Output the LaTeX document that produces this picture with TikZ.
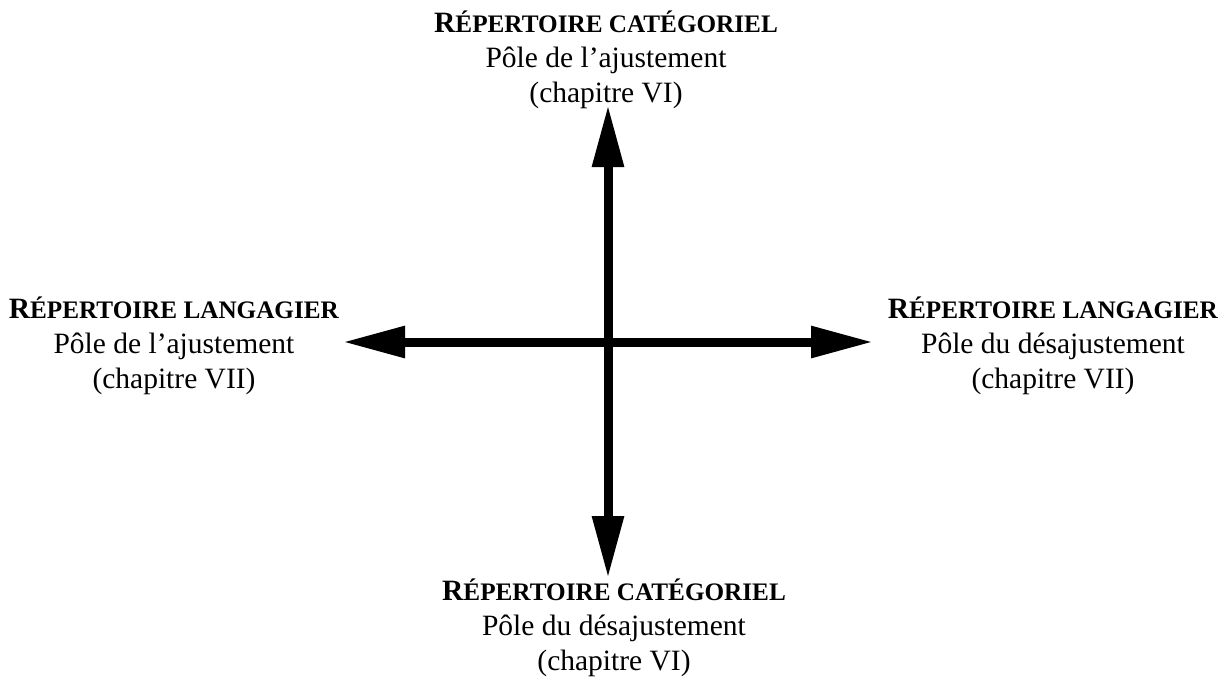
\documentclass[tikz,border=0pt]{standalone}
\usepackage{fontspec}
\setmainfont{Liberation Serif}
\usepackage{tikz}
\usetikzlibrary{arrows.meta}

% bold title with a big first letter, the rest in small capitals
\newcommand{\poletitle}[2]{\textbf{#1{\fontsize{12.6}{17.5}\selectfont #2}}}

\begin{document}
\begin{tikzpicture}[x=0.5pt,y=-0.5pt,
    axis/.style={line width=4.5pt,{Triangle[length=31pt,width=15pt]}-{Triangle[length=31pt,width=15pt]}},
    pole/.style={align=center,inner sep=0pt,font=\fontsize{14.75}{17.5}\selectfont}]
    \useasboundingbox (0,0) rectangle (1221,676);

    % Arrow tips
    \coordinate (up) at (608,105);
    \coordinate (down) at (608,578);
    \coordinate (left) at (343,342);
    \coordinate (right) at (873,342);

    % Axes
    \draw[axis] (down) -- (up);
    \draw[axis] (left) -- (right);

    % Categorial repertoire (vertical)
    \node[pole] (catup) at (606,60) {\poletitle{R}{ÉPERTOIRE CATÉGORIEL}\\Pôle de l’ajustement\\(chapitre VI)};
    \node[pole] (catdown) at (614,628) {\poletitle{R}{ÉPERTOIRE CATÉGORIEL}\\Pôle du désajustement\\(chapitre VI)};

    % Language repertoire (horizontal)
    \node[pole] (langleft) at (174,346) {\poletitle{R}{ÉPERTOIRE LANGAGIER}\\Pôle de l’ajustement\\(chapitre VII)};
    \node[pole] (langright) at (1053,346) {\poletitle{R}{ÉPERTOIRE LANGAGIER}\\Pôle du désajustement\\(chapitre VII)};

\end{tikzpicture}
\end{document}
